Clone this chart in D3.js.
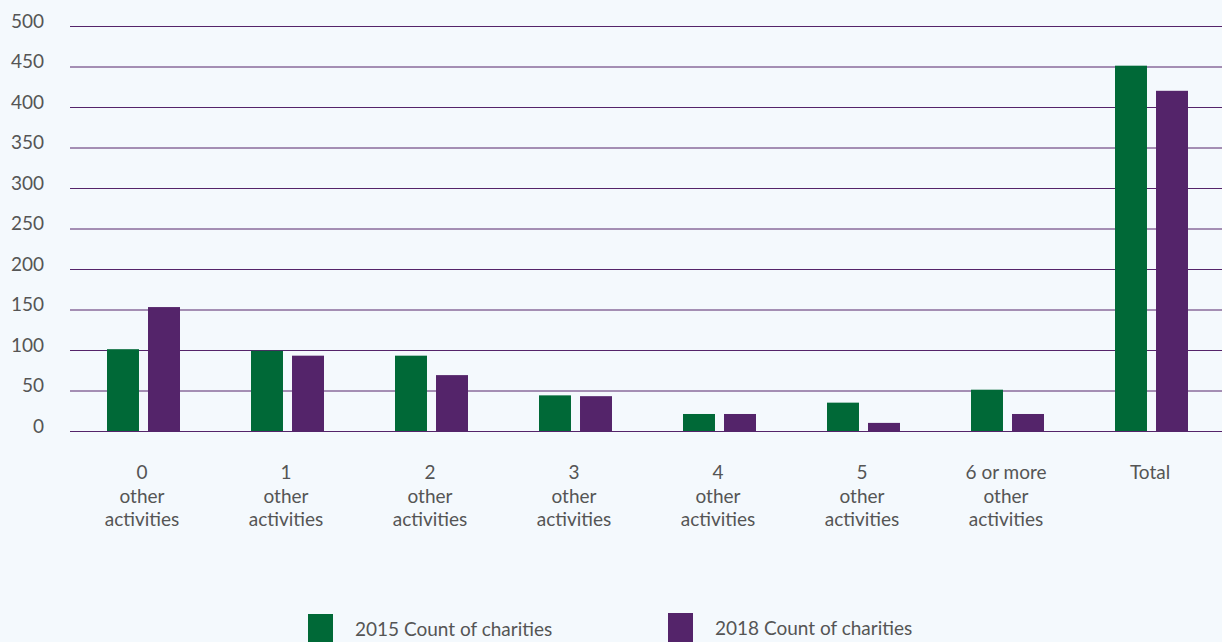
<!DOCTYPE html>
<html><head><meta charset="utf-8">
<script src="https://cdn.jsdelivr.net/npm/d3@7"></script>
<style>
html,body{margin:0;padding:0;background:#f4f9fd;}
svg{display:block;font-family:Lato,"Open Sans",sans-serif;}
</style></head>
<body>
<svg id="chart" width="1222" height="642"></svg>
<script>
const categories = [["0","other","activities"],["1","other","activities"],["2","other","activities"],["3","other","activities"],["4","other","activities"],["5","other","activities"],["6 or more","other","activities"],["Total"]];
const seriesNames = ["2015 Count of charities","2018 Count of charities"];
const values2015 = [101, 99, 93, 44, 21, 35, 51, 451];
const values2018 = [153, 93, 69, 43, 21, 10, 21, 420];
const yTicks = [0,50,100,150,200,250,300,350,400,450,500];
const colors = ["#006937","#54246a"];

(function(){
const svg = d3.select("#chart");
const mL = 70, mR = 1222, mT = 26, mB = 431;
const x0 = d3.scaleBand().domain(d3.range(categories.length)).range([mL, mR]).padding(0);
const x1 = d3.scaleBand().domain([0,1]).range([37, 110]).paddingInner(0.22);
const y = d3.scaleLinear().domain([0,500]).range([mB, mT]);
const fs = 19, txt = "#555";

const yAxis = d3.axisLeft(y).tickValues(yTicks).tickSize(-(mR-mL)).tickPadding(26);
const ga = svg.append("g").attr("transform",`translate(${mL},0)`).call(yAxis);
ga.select(".domain").remove();
ga.selectAll(".tick line").attr("stroke","#54246a").attr("stroke-width",1);
ga.selectAll(".tick text").attr("fill",txt).attr("font-size",fs).attr("font-family","Lato, sans-serif").attr("dy","0.06em");

const series = [values2015, values2018];
series.forEach((vals, si) => {
  svg.append("g").selectAll("rect").data(vals).join("rect")
    .attr("x",(d,i)=>x0(i)+x1(si))
    .attr("width",x1.bandwidth())
    .attr("y",d=>y(d))
    .attr("height",d=>y(0)-y(d))
    .attr("fill",colors[si]);
});

const lab = svg.append("g");
categories.forEach((lines,i)=>{
  const cx = x0(i)+x0.bandwidth()/2;
  const t = lab.append("text").attr("x",cx).attr("y",479)
    .attr("text-anchor","middle").attr("fill",txt).attr("font-size",fs);
  lines.forEach((l,j)=>t.append("tspan").attr("x",cx).attr("dy",j===0?0:23.5).text(l));
});

const legX = [308, 668], legY = [614, 613];
seriesNames.forEach((n,i)=>{
  svg.append("rect").attr("x",legX[i]).attr("y",legY[i]).attr("width",25).attr("height",30).attr("fill",colors[i]);
  svg.append("text").attr("x",legX[i]+47).attr("y",legY[i]+22).attr("fill",txt).attr("font-size",fs).text(n);
});
})();
</script>
</body></html>
